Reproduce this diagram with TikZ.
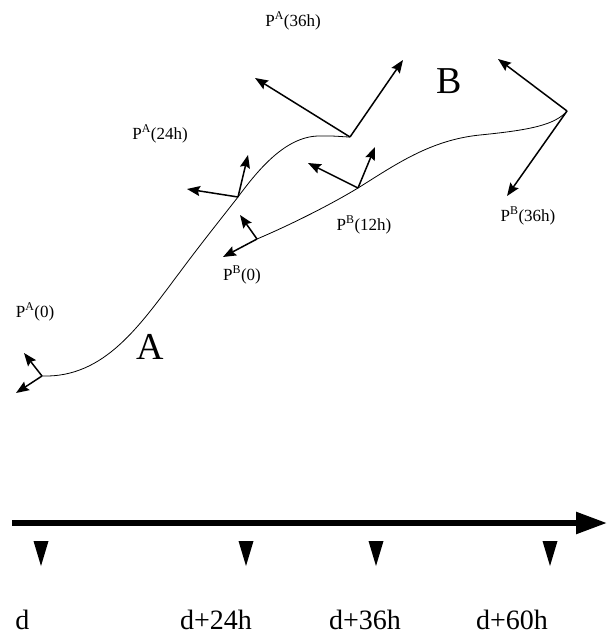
\documentclass[tikz,border=0pt]{standalone}
\usepackage{fontspec}
\setmainfont{Liberation Serif}
\usetikzlibrary{arrows.meta}
\begin{document}
\begin{tikzpicture}[x=1pt,y=-1pt,
  vec/.style={line width=1.5pt,-{Stealth[length=13pt,width=10pt,inset=2pt]}},
  crv/.style={line width=0.8pt},
  lbl/.style={inner sep=0pt,font=\fontsize{17}{20}\selectfont},
  big/.style={inner sep=0pt,font=\fontsize{38}{44}\selectfont},
  tl/.style={inner sep=0pt,anchor=base,font=\fontsize{28}{32}\selectfont},
  axis/.style={line width=5.5pt,-{Triangle[length=31pt,width=21pt]}}]
\useasboundingbox (0,0) rectangle (607,634);
% frame origins
\coordinate (a0) at (42,376);
\coordinate (a24) at (238,197);
\coordinate (a36) at (350,137);
\coordinate (b0) at (257,239);
\coordinate (b12) at (358,188);
\coordinate (b36) at (567,111);
% arrow tips
\coordinate (a0u) at (24,353);
\coordinate (a0d) at (16,393);
\coordinate (a24l) at (187,189);
\coordinate (a24u) at (248,155);
\coordinate (a36l) at (255,78);
\coordinate (a36u) at (403,60);
\coordinate (b0d) at (223,257);
\coordinate (b0u) at (240,215);
\coordinate (b12l) at (308,163);
\coordinate (b12u) at (375,147);
\coordinate (b36u) at (498,59);
\coordinate (b36d) at (507,196);
% curve A
\draw[crv] (a0) .. controls (105,378) and (140,325) .. (180,272)
  .. controls (200,245) and (220,220) .. (a24)
  .. controls (258,170) and (285,137) .. (318,136)
  .. controls (334,135.5) and (344,137) .. (a36);
% curve B
\draw[crv] (b0) .. controls (290,225) and (330,205) .. (b12)
  .. controls (395,165) and (430,140) .. (480,135)
  .. controls (530,130) and (555,125) .. (b36);
% frames
\draw[vec] (a0) -- (a0u);
\draw[vec] (a0) -- (a0d);
\draw[vec] (a24) -- (a24l);
\draw[vec] (a24) -- (a24u);
\draw[vec] (a36) -- (a36l);
\draw[vec] (a36) -- (a36u);
\draw[vec] (b0) -- (b0d);
\draw[vec] (b0) -- (b0u);
\draw[vec] (b12) -- (b12l);
\draw[vec] (b12) -- (b12u);
\draw[vec] (b36) -- (b36u);
\draw[vec] (b36) -- (b36d);
% labels
\node[lbl] (lA0) at (35,312) {P\textsuperscript{A}(0)};
\node[lbl] (lA24) at (160,134) {P\textsuperscript{A}(24h)};
\node[lbl] (lA36) at (293,21) {P\textsuperscript{A}(36h)};
\node[lbl] (lB0) at (242,275) {P\textsuperscript{B}(0)};
\node[lbl] (lB12) at (364,225) {P\textsuperscript{B}(12h)};
\node[lbl] (lB36) at (528,216) {P\textsuperscript{B}(36h)};
\node[big] (nA) at (150,347) {A};
\node[big] (nB) at (449,81) {B};
% time axis
\coordinate (ts) at (12,523);
\coordinate (te) at (607,523);
\draw[axis] (ts) -- (te);
\foreach \x in {41,246,376,550}
  \fill (\x-7.5,541) -- (\x+7.5,541) -- (\x,566) -- cycle;
\node[tl] (t0) at (22.5,629) {d};
\node[tl] (t24) at (216,629) {d+24h};
\node[tl] (t36) at (365,629) {d+36h};
\node[tl] (t60) at (512,629) {d+60h};
\end{tikzpicture}
\end{document}
